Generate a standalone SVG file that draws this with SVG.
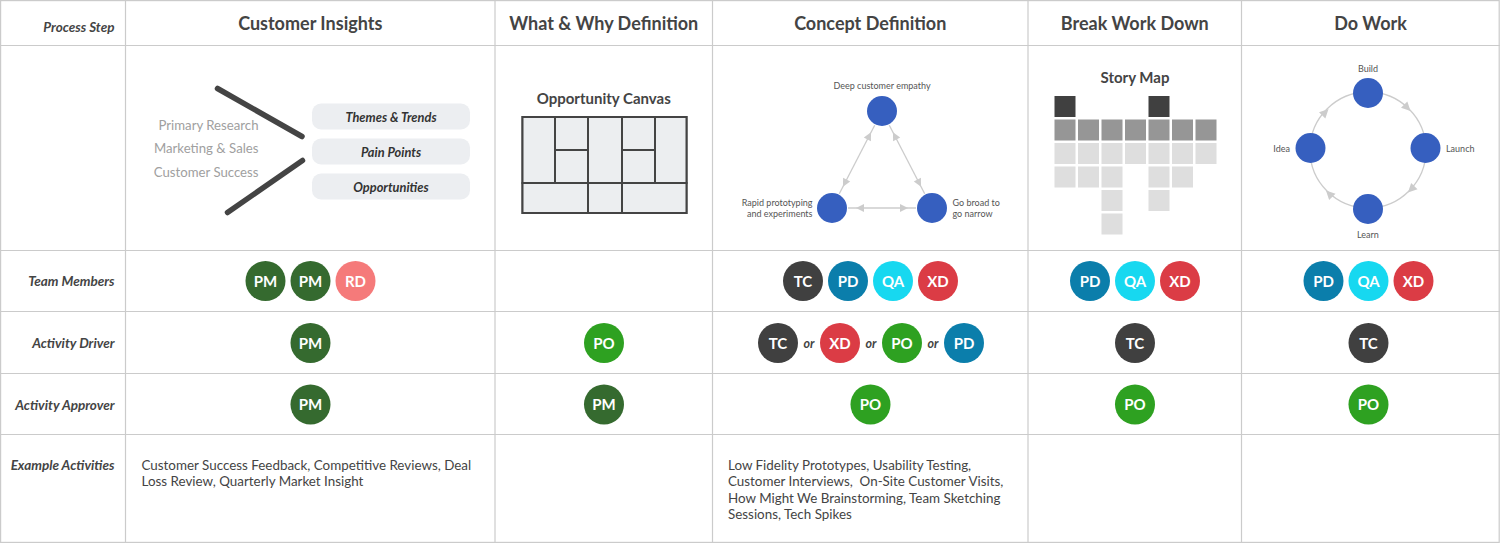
<svg xmlns="http://www.w3.org/2000/svg" width="1500" height="543" viewBox="0 0 1500 543">
<style>
  .grid { stroke:#cbcbcb; stroke-width:1.2; fill:none; }
  text { font-family: Lato, "Open Sans", "Liberation Sans", sans-serif; }
  .hdr { font-size:18px; font-weight:bold; fill:#444; text-anchor:middle; }
  .lbl { font-size:13.5px; font-weight:bold; font-style:italic; fill:#444; text-anchor:end; }
  .av text { font-size:15px; font-weight:bold; fill:#fff; text-anchor:middle; }
  .or { font-size:12.5px; font-weight:bold; font-style:italic; fill:#444; text-anchor:middle; }
  .pm { fill:#356a2f; } .rd { fill:#f57a7a; } .tc { fill:#404040; } .pd { fill:#0b7eab; }
  .qa { fill:#17d8f0; } .xd { fill:#db3c45; } .po { fill:#2ea121; }
  .src { font-size:13.2px; fill:#a0a0a0; text-anchor:end; }
  .pill rect { fill:#eceef1; }
  .pill text { font-size:12.8px; font-weight:bold; font-style:italic; fill:#333; text-anchor:middle; }
  .ex { font-size:13.4px; fill:#444; }
  .sub { font-size:15px; font-weight:bold; fill:#444; text-anchor:middle; }
  .cv { fill:#eceef0; stroke:#444; stroke-width:2; }
  .blue { fill:#365fbf; }
  .small { font-size:9px; fill:#555; }
  .conn { stroke:#cccccc; stroke-width:1.3; fill:none; }
  .sq-d { fill:#404040; } .sq-m { fill:#969696; } .sq-l { fill:#dedede; }
</style>
<defs>
  <marker id="ah" viewBox="0 0 20 10" markerUnits="userSpaceOnUse" markerWidth="20" markerHeight="10" refX="18" refY="5" orient="auto-start-reverse">
    <path d="M2,1 L10,5 L2,9 z" fill="#cccccc"/>
  </marker>
  <path id="tri" d="M5,0 L-4,-4.5 L-4,4.5 z" fill="#cccccc"/>
</defs>
<rect width="1500" height="543" fill="#fff"/>

<g id="grid" class="grid">
  <rect x="0.6" y="0.6" width="1498.6" height="541.8"/>
  <line x1="125.5" y1="0" x2="125.5" y2="543"/>
  <line x1="495" y1="0" x2="495" y2="543"/>
  <line x1="712.5" y1="0" x2="712.5" y2="543"/>
  <line x1="1028" y1="0" x2="1028" y2="543"/>
  <line x1="1241.5" y1="0" x2="1241.5" y2="543"/>
  <line x1="0" y1="45.5" x2="1500" y2="45.5"/>
  <line x1="0" y1="250.5" x2="1500" y2="250.5"/>
  <line x1="0" y1="311.5" x2="1500" y2="311.5"/>
  <line x1="0" y1="373.5" x2="1500" y2="373.5"/>
  <line x1="0" y1="434.5" x2="1500" y2="434.5"/>
</g>

<g id="row-labels">
  <text class="lbl" x="114.5" y="31.5">Process Step</text>
  <text class="lbl" x="114.5" y="286">Team Members</text>
  <text class="lbl" x="114.5" y="348">Activity Driver</text>
  <text class="lbl" x="114.5" y="409.5">Activity Approver</text>
  <text class="lbl" x="114.5" y="469.5">Example Activities</text>
</g>

<g id="headers">
  <text class="hdr" x="310.25" y="30">Customer Insights</text>
  <text class="hdr" x="603.75" y="30">What &amp; Why Definition</text>
  <text class="hdr" x="870.25" y="30">Concept Definition</text>
  <text class="hdr" x="1134.75" y="30">Break Work Down</text>
  <text class="hdr" x="1370.5" y="30">Do Work</text>
</g>

<!-- Customer Insights illustration -->
<g id="customer-insights">
  <g id="sources">
    <text class="src" x="258.5" y="129.5">Primary Research</text>
    <text class="src" x="258.5" y="153">Marketing &amp; Sales</text>
    <text class="src" x="258.5" y="176.5">Customer Success</text>
  </g>
  <g id="funnel" stroke="#444" stroke-width="5.5" stroke-linecap="round">
    <line x1="217.5" y1="88.5" x2="302" y2="136.5"/>
    <line x1="302.5" y1="160.5" x2="227.5" y2="212.5"/>
  </g>
  <g id="pill-themes" class="pill"><rect x="312" y="103.5" width="158" height="26" rx="9"/><text x="391" y="121.5">Themes &amp; Trends</text></g>
  <g id="pill-pain" class="pill"><rect x="312" y="138.5" width="158" height="26" rx="9"/><text x="391" y="156.5">Pain Points</text></g>
  <g id="pill-opps" class="pill"><rect x="312" y="173.5" width="158" height="26" rx="9"/><text x="391" y="191.5">Opportunities</text></g>
</g>

<!-- Opportunity canvas -->
<g id="opportunity-canvas">
  <text class="sub" x="603.75" y="104">Opportunity Canvas</text>
  <rect class="cv" x="522.5" y="117" width="164" height="96"/>
  <rect class="cv" x="522.5" y="117" width="32.5" height="66"/>
  <rect class="cv" x="555" y="117" width="33" height="33"/>
  <rect class="cv" x="555" y="150" width="33" height="33"/>
  <rect class="cv" x="588" y="117" width="34" height="66"/>
  <rect class="cv" x="622" y="117" width="33" height="33"/>
  <rect class="cv" x="622" y="150" width="33" height="33"/>
  <rect class="cv" x="655" y="117" width="31.5" height="66"/>
  <rect class="cv" x="522.5" y="183" width="65.5" height="30"/>
  <rect class="cv" x="588" y="183" width="34" height="30"/>
  <rect class="cv" x="622" y="183" width="64.5" height="30"/>
</g>

<!-- Concept definition triangle -->
<g id="concept-connectors">
  <line class="conn" x1="874.7" y1="125.2" x2="839.3" y2="193.8" marker-start="url(#ah)" marker-end="url(#ah)"/>
  <line class="conn" x1="889.3" y1="125.2" x2="924.7" y2="193.8" marker-start="url(#ah)" marker-end="url(#ah)"/>
  <line class="conn" x1="848" y1="208" x2="916" y2="208" marker-start="url(#ah)" marker-end="url(#ah)"/>
</g>
<g id="node-empathy">
  <circle class="blue" cx="882" cy="111" r="15"/>
  <text class="small" x="882" y="89" text-anchor="middle">Deep customer empathy</text>
</g>
<g id="node-prototyping">
  <circle class="blue" cx="832" cy="208" r="15"/>
  <text class="small" x="812.5" y="205.5" text-anchor="end">Rapid prototyping</text>
  <text class="small" x="812.5" y="216.5" text-anchor="end">and experiments</text>
</g>
<g id="node-broad">
  <circle class="blue" cx="932" cy="208" r="15"/>
  <text class="small" x="952.5" y="205.5">Go broad to</text>
  <text class="small" x="952.5" y="216.5">go narrow</text>
</g>

<!-- Story map -->
<g id="story-map">
  <text class="sub" x="1135" y="82.5">Story Map</text>
  <rect class="sq-d" x="1054.5" y="96" width="21" height="21"/>
  <rect class="sq-d" x="1148.5" y="96" width="21" height="21"/>
  <rect class="sq-m" x="1054.5" y="119.5" width="21" height="21"/>
  <rect class="sq-m" x="1078" y="119.5" width="21" height="21"/>
  <rect class="sq-m" x="1101.5" y="119.5" width="21" height="21"/>
  <rect class="sq-m" x="1125" y="119.5" width="21" height="21"/>
  <rect class="sq-m" x="1148.5" y="119.5" width="21" height="21"/>
  <rect class="sq-m" x="1172" y="119.5" width="21" height="21"/>
  <rect class="sq-m" x="1195.5" y="119.5" width="21" height="21"/>
  <rect class="sq-l" x="1054.5" y="143" width="21" height="21"/>
  <rect class="sq-l" x="1078" y="143" width="21" height="21"/>
  <rect class="sq-l" x="1101.5" y="143" width="21" height="21"/>
  <rect class="sq-l" x="1125" y="143" width="21" height="21"/>
  <rect class="sq-l" x="1148.5" y="143" width="21" height="21"/>
  <rect class="sq-l" x="1172" y="143" width="21" height="21"/>
  <rect class="sq-l" x="1195.5" y="143" width="21" height="21"/>
  <rect class="sq-l" x="1054.5" y="166.5" width="21" height="21"/>
  <rect class="sq-l" x="1078" y="166.5" width="21" height="21"/>
  <rect class="sq-l" x="1101.5" y="166.5" width="21" height="21"/>
  <rect class="sq-l" x="1148.5" y="166.5" width="21" height="21"/>
  <rect class="sq-l" x="1172" y="166.5" width="21" height="21"/>
  <rect class="sq-l" x="1101.5" y="190" width="21" height="21"/>
  <rect class="sq-l" x="1148.5" y="190" width="21" height="21"/>
  <rect class="sq-l" x="1101.5" y="213.5" width="21" height="21"/>
</g>

<!-- Do work cycle -->
<g id="cycle-connectors">
  <circle class="conn" cx="1368" cy="150" r="58"/>
  <use href="#tri" transform="translate(1407,107.5) rotate(45)"/>
  <use href="#tri" transform="translate(1411.5,189) rotate(135)"/>
  <use href="#tri" transform="translate(1329.5,194) rotate(225)"/>
  <use href="#tri" transform="translate(1325,112.5) rotate(315)"/>
</g>
<g id="node-build">
  <circle class="blue" cx="1368" cy="93" r="15"/>
  <text class="small" x="1368" y="71.5" text-anchor="middle">Build</text>
</g>
<g id="node-launch">
  <circle class="blue" cx="1425.5" cy="148" r="15"/>
  <text class="small" x="1446" y="151.5">Launch</text>
</g>
<g id="node-learn">
  <circle class="blue" cx="1368" cy="209" r="15"/>
  <text class="small" x="1368" y="237.5" text-anchor="middle">Learn</text>
</g>
<g id="node-idea">
  <circle class="blue" cx="1310.5" cy="148" r="15"/>
  <text class="small" x="1290" y="151.5" text-anchor="end">Idea</text>
</g>

<!-- Team members -->
<g id="team-ci-pm1" class="av"><circle class="pm" cx="265.5" cy="281" r="20"/><text x="265.5" y="286.5">PM</text></g>
<g id="team-ci-pm2" class="av"><circle class="pm" cx="310.5" cy="281" r="20"/><text x="310.5" y="286.5">PM</text></g>
<g id="team-ci-rd" class="av"><circle class="rd" cx="355.5" cy="281" r="20"/><text x="355.5" y="286.5">RD</text></g>

<g id="team-cd-tc" class="av"><circle class="tc" cx="803" cy="281" r="20"/><text x="803" y="286.5">TC</text></g>
<g id="team-cd-pd" class="av"><circle class="pd" cx="848" cy="281" r="20"/><text x="848" y="286.5">PD</text></g>
<g id="team-cd-qa" class="av"><circle class="qa" cx="893" cy="281" r="20"/><text x="893" y="286.5">QA</text></g>
<g id="team-cd-xd" class="av"><circle class="xd" cx="938" cy="281" r="20"/><text x="938" y="286.5">XD</text></g>

<g id="team-bw-pd" class="av"><circle class="pd" cx="1090" cy="281" r="20"/><text x="1090" y="286.5">PD</text></g>
<g id="team-bw-qa" class="av"><circle class="qa" cx="1135" cy="281" r="20"/><text x="1135" y="286.5">QA</text></g>
<g id="team-bw-xd" class="av"><circle class="xd" cx="1180" cy="281" r="20"/><text x="1180" y="286.5">XD</text></g>

<g id="team-dw-pd" class="av"><circle class="pd" cx="1323.5" cy="281" r="20"/><text x="1323.5" y="286.5">PD</text></g>
<g id="team-dw-qa" class="av"><circle class="qa" cx="1368.5" cy="281" r="20"/><text x="1368.5" y="286.5">QA</text></g>
<g id="team-dw-xd" class="av"><circle class="xd" cx="1413.5" cy="281" r="20"/><text x="1413.5" y="286.5">XD</text></g>

<!-- Activity driver -->
<g id="drv-ci-pm" class="av"><circle class="pm" cx="310.5" cy="343" r="20"/><text x="310.5" y="348.5">PM</text></g>
<g id="drv-ww-po" class="av"><circle class="po" cx="604" cy="343" r="20"/><text x="604" y="348.5">PO</text></g>
<g id="drv-cd-tc" class="av"><circle class="tc" cx="778" cy="343" r="20"/><text x="778" y="348.5">TC</text></g>
<g id="drv-cd-xd" class="av"><circle class="xd" cx="840" cy="343" r="20"/><text x="840" y="348.5">XD</text></g>
<g id="drv-cd-po" class="av"><circle class="po" cx="902" cy="343" r="20"/><text x="902" y="348.5">PO</text></g>
<g id="drv-cd-pd" class="av"><circle class="pd" cx="964" cy="343" r="20"/><text x="964" y="348.5">PD</text></g>
<g id="drv-cd-or">
  <text class="or" x="809" y="348">or</text>
  <text class="or" x="871" y="348">or</text>
  <text class="or" x="933" y="348">or</text>
</g>
<g id="drv-bw-tc" class="av"><circle class="tc" cx="1135" cy="343" r="20"/><text x="1135" y="348.5">TC</text></g>
<g id="drv-dw-tc" class="av"><circle class="tc" cx="1368.5" cy="343" r="20"/><text x="1368.5" y="348.5">TC</text></g>

<!-- Activity approver -->
<g id="apr-ci-pm" class="av"><circle class="pm" cx="310.5" cy="404.5" r="20"/><text x="310.5" y="410">PM</text></g>
<g id="apr-ww-pm" class="av"><circle class="pm" cx="604" cy="404.5" r="20"/><text x="604" y="410">PM</text></g>
<g id="apr-cd-po" class="av"><circle class="po" cx="870.5" cy="404.5" r="20"/><text x="870.5" y="410">PO</text></g>
<g id="apr-bw-po" class="av"><circle class="po" cx="1135" cy="404.5" r="20"/><text x="1135" y="410">PO</text></g>
<g id="apr-dw-po" class="av"><circle class="po" cx="1368.5" cy="404.5" r="20"/><text x="1368.5" y="410">PO</text></g>

<!-- Example activities -->
<g id="ex-ci">
  <text class="ex" x="141.5" y="470">Customer Success Feedback, Competitive Reviews, Deal</text>
  <text class="ex" x="141.5" y="486">Loss Review, Quarterly Market Insight</text>
</g>
<g id="ex-cd">
  <text class="ex" x="728" y="469.5">Low Fidelity Prototypes, Usability Testing,</text>
  <text class="ex" x="728" y="486" xml:space="preserve">Customer Interviews,  On-Site Customer Visits,</text>
  <text class="ex" x="728" y="502.5">How Might We Brainstorming, Team Sketching</text>
  <text class="ex" x="728" y="519">Sessions, Tech Spikes</text>
</g>
</svg>
